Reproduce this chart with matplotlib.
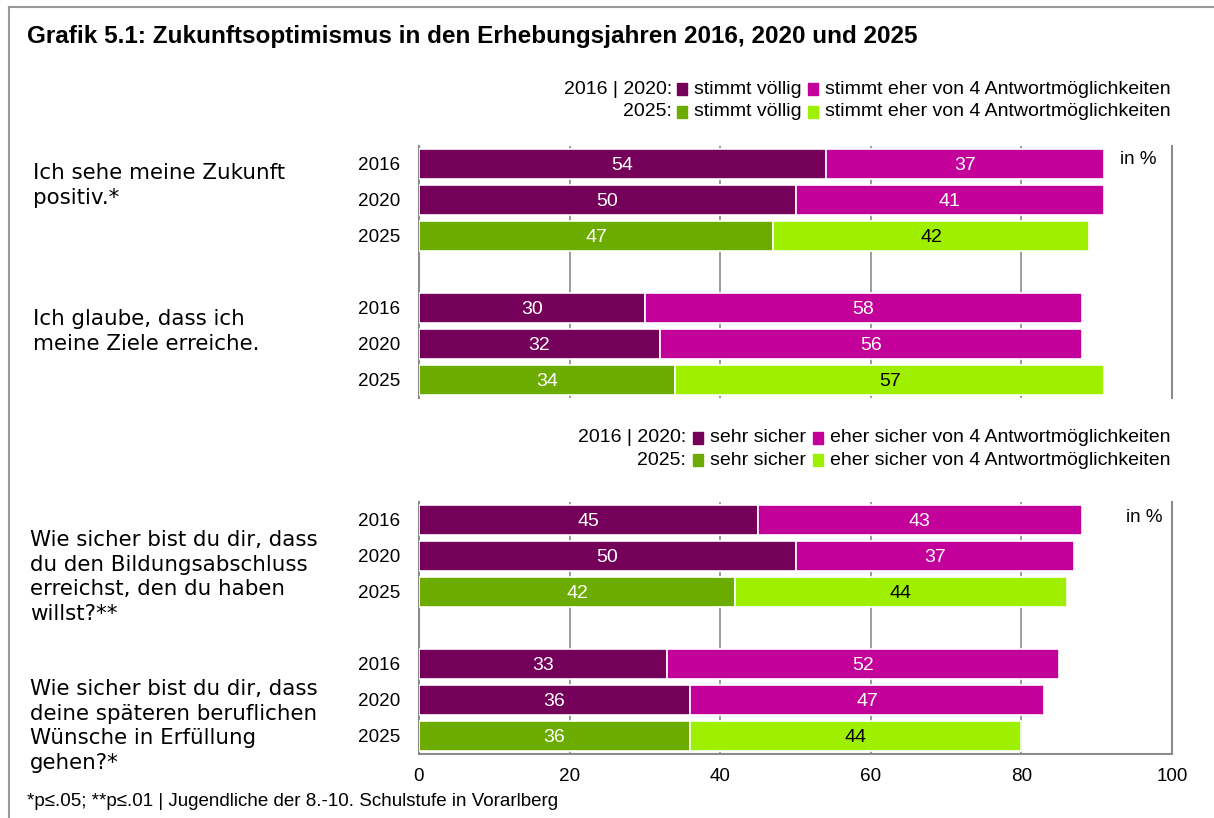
import matplotlib
matplotlib.use("Agg")
import matplotlib.pyplot as plt
from matplotlib.patches import Rectangle
from matplotlib.lines import Line2D
import numpy as np

W, H = 1214, 818

years = ["2016", "2020", "2025"]

# panel 1: stimmt völlig / stimmt eher
q1_full = [54, 50, 47]
q1_rather = [37, 41, 42]
q2_full = [30, 32, 34]
q2_rather = [58, 56, 57]

# panel 2: sehr sicher / eher sicher
q3_full = [45, 50, 42]
q3_rather = [43, 37, 44]
q4_full = [33, 36, 36]
q4_rather = [52, 47, 44]

questions_top = ["Ich sehe meine Zukunft\npositiv.*",
                 "Ich glaube, dass ich\nmeine Ziele erreiche."]
questions_bottom = ["Wie sicher bist du dir, dass\ndu den Bildungsabschluss\nerreichst, den du haben\nwillst?**",
                    "Wie sicher bist du dir, dass\ndeine späteren beruflichen\nWünsche in Erfüllung\ngehen?*"]

xticks = [0, 20, 40, 60, 80, 100]

DARK_PURPLE = "#75005a"
MAGENTA = "#c4009a"
GREEN = "#6cac00"
LIME = "#9ef000"

BODY = ["Liberation Sans", "DejaVu Sans"]

fig = plt.figure(figsize=(W / 100, H / 100), dpi=100)


def fx(px):
    return px / W


def fy(py):
    return 1 - py / H


def draw_panel(ax, groups, show_xticks):
    rows = [0, 1, 2, 4, 5, 6]
    full = []
    rather = []
    for f, r in groups:
        full += f
        rather += r
    full_cols = [DARK_PURPLE, DARK_PURPLE, GREEN] * 2
    rather_cols = [MAGENTA, MAGENTA, LIME] * 2
    rather_txt = ["white", "white", "black"] * 2
    ax.barh(rows, full, height=0.86, color=full_cols, edgecolor="white", linewidth=1.2, zorder=3)
    ax.barh(rows, rather, left=full, height=0.86, color=rather_cols, edgecolor="white", linewidth=1.2, zorder=3)
    for y, f, r, tc in zip(rows, full, rather, rather_txt):
        ax.text(f / 2, y, str(f), ha="center", va="center_baseline", color="white", fontsize=14, family=BODY, zorder=4)
        ax.text(f + r / 2, y, str(r), ha="center", va="center_baseline", color=tc, fontsize=14, family=BODY, zorder=4)
    ax.set_xlim(0, 100)
    ax.set_ylim(6.5, -0.5)
    ax.set_yticks(rows)
    ax.set_yticklabels(years * 2, fontsize=13.6, family=BODY)
    ax.tick_params(axis="y", length=0, pad=13.5)
    ax.set_xticks(xticks)
    ax.grid(axis="x", color="#8c8c8c", linewidth=1.2, zorder=0)
    ax.set_axisbelow(True)
    for s in ["left", "right", "bottom", "top"]:
        ax.spines[s].set_color("#8c8c8c")
        ax.spines[s].set_linewidth(1.5)
    ax.spines["top"].set_visible(False)
    if show_xticks:
        ax.tick_params(axis="x", length=0, pad=10, labelsize=13.6)
        for lab in ax.get_xticklabels():
            lab.set_family(BODY)
    else:
        ax.spines["bottom"].set_visible(False)
        ax.tick_params(axis="x", length=0, labelbottom=False)


ax1 = fig.add_axes([fx(419), fy(398), fx(1172) - fx(419), (398 - 146) / H])
draw_panel(ax1, [(q1_full, q1_rather), (q2_full, q2_rather)], False)

ax2 = fig.add_axes([fx(419), fy(754), fx(1172) - fx(419), (754 - 502) / H])
draw_panel(ax2, [(q3_full, q3_rather), (q4_full, q4_rather)], True)

# question labels
qkw = dict(ha="left", va="center", fontsize=15.4, family="DejaVu Sans", linespacing=1.3)
fig.text(fx(33), fy(185.5), questions_top[0], **qkw)
fig.text(fx(33), fy(331.5), questions_top[1], **qkw)
fig.text(fx(30), fy(577), questions_bottom[0], **qkw)
fig.text(fx(30), fy(726), questions_bottom[1], **qkw)

# "in %"
fig.text(fx(1157), fy(160), "in %", ha="right", va="center", fontsize=13.5, family=BODY)
fig.text(fx(1162), fy(518), "in %", ha="right", va="center", fontsize=13.5, family=BODY)


# legends
def legend_line(y, label, x_label, x_sq1, x_t1, x_sq2, x_t2, c1, c2, t1, t2):
    fig.text(fx(x_label), fy(y), label, ha="right", va="center", fontsize=14, family=BODY)
    for xs, c in [(x_sq1, c1), (x_sq2, c2)]:
        fig.patches.append(Rectangle((fx(xs), fy(y + 6)), 10 / W, 12 / H, color=c, transform=fig.transFigure))
    fig.text(fx(x_t1), fy(y), t1, ha="left", va="center", fontsize=14, family=BODY)
    fig.text(fx(x_t2), fy(y), t2, ha="left", va="center", fontsize=14, family=BODY)


legend_line(89, "2016 | 2020:", 672, 677, 694, 808, 825, DARK_PURPLE, MAGENTA,
            "stimmt völlig", "stimmt eher von 4 Antwortmöglichkeiten")
legend_line(112, "2025:", 672, 677, 694, 808, 825, GREEN, LIME,
            "stimmt völlig", "stimmt eher von 4 Antwortmöglichkeiten")
legend_line(438, "2016 | 2020:", 686, 693, 710, 813, 830, DARK_PURPLE, MAGENTA,
            "sehr sicher", "eher sicher von 4 Antwortmöglichkeiten")
legend_line(460, "2025:", 686, 693, 710, 813, 830, GREEN, LIME,
            "sehr sicher", "eher sicher von 4 Antwortmöglichkeiten")

# title and footnote
fig.text(fx(27), fy(36), "Grafik 5.1: Zukunftsoptimismus in den Erhebungsjahren 2016, 2020 und 2025",
         ha="left", va="center", fontsize=17.5, fontweight="bold", family=BODY)
fig.text(fx(27), fy(802), "*p≤.05; **p≤.01 | Jugendliche der 8.-10. Schulstufe in Vorarlberg",
         ha="left", va="center", fontsize=13.5, family=BODY)

# outer frame (top and left only)
fig.lines.append(Line2D([fx(9), fx(9)], [fy(7), 0], color="#999999", linewidth=1.5, transform=fig.transFigure))
fig.lines.append(Line2D([fx(9), 1], [fy(7), fy(7)], color="#999999", linewidth=1.5, transform=fig.transFigure))

fig.savefig("out.png", dpi=100)
